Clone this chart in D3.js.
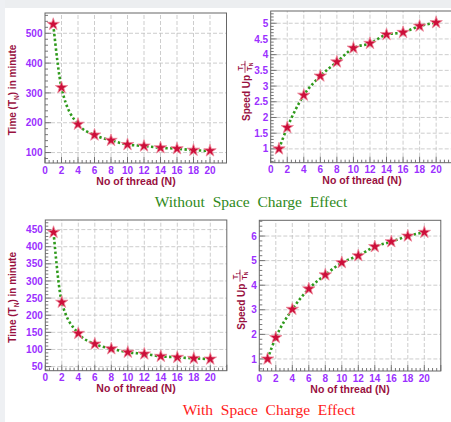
<!DOCTYPE html>
<html>
<head>
<meta charset="utf-8">
<script src="https://cdn.jsdelivr.net/npm/d3@7"></script>
<style>
  html, body { margin: 0; padding: 0; background: #ffffff; }
  svg { display: block; }
</style>
</head>
<body>
<svg id="chart" width="451" height="422"></svg>
<script>
// Run time and speed-up versus number of threads, with and without space charge
const threads = [1, 2, 4, 6, 8, 10, 12, 14, 16, 18, 20];
const timeNoSC = [530, 318, 195, 159, 141, 127, 122, 116, 113, 108, 106];
const speedupNoSC = [1, 1.68, 2.71, 3.32, 3.77, 4.21, 4.36, 4.64, 4.71, 4.91, 5.02];
const timeSC = [442, 238, 147, 116, 102, 92, 87, 80, 77, 74, 72];
const speedupSC = [1, 1.87, 3.02, 3.85, 4.42, 4.92, 5.20, 5.57, 5.77, 6.00, 6.15];

const xTicks = [0, 2, 4, 6, 8, 10, 12, 14, 16, 18, 20];
const yTicksTimeNoSC = [100, 200, 300, 400, 500];
const yTicksSpeedNoSC = [1, 1.5, 2, 2.5, 3, 3.5, 4, 4.5, 5];
const yTicksTimeSC = [50, 100, 150, 200, 250, 300, 350, 400, 450];
const yTicksSpeedSC = [1, 2, 3, 4, 5, 6];

const captions = ["Without  Space  Charge  Effect", "With  Space  Charge  Effect"];

const COL_TICK = "#9b30ff";
const COL_TITLE = "#99113f";
const COL_LINE = "#2f9a1c";
const COL_MARK = "#cc0f3a";
const COL_FRAME = "#666666";
const COL_GRID = "#c0c0c0";

const svg = d3.select("#chart");

// soft grey page edges
svg.append("rect").attr("width", 451).attr("height", 422).attr("fill", "#ffffff");
svg.append("rect").attr("width", 451).attr("height", 8).attr("fill", "#eceef0");
svg.append("rect").attr("width", 5).attr("height", 422).attr("fill", "#eef0f3");

const panels = [
  { x0: 45, x1: 226.5, y0: 163, y1: 13, dom: [65, 568], ticks: yTicksTimeNoSC, minor: 20,
    vals: timeNoSC, fmt: d3.format("d"), title: "time", tx: 16, xt: 136 },
  { x0: 270.7, x1: 452.7, y0: 162.7, y1: 11, dom: [0.56, 5.39], ticks: yTicksSpeedNoSC, minor: 0.1,
    vals: speedupNoSC, fmt: d => String(d), title: "speed", tx: 250, xt: 362 },
  { x0: 45.3, x1: 226.8, y0: 370.7, y1: 220, dom: [38, 478], ticks: yTicksTimeSC, minor: 10,
    vals: timeSC, fmt: d3.format("d"), title: "time", tx: 16, xt: 136 },
  { x0: 259.3, x1: 440.8, y0: 371, y1: 220.3, dom: [0.51, 6.64], ticks: yTicksSpeedSC, minor: 0.2,
    vals: speedupSC, fmt: d3.format("d"), title: "speed", tx: 245, xt: 350 }
];

function range(a, b, step) {
  const out = [];
  const n = Math.floor((b - a) / step + 1e-6);
  for (let i = 0; i <= n; i++) out.push(+(a + i * step).toFixed(6));
  return out;
}

panels.forEach(p => {
  const x = d3.scaleLinear().domain([0, 22]).range([p.x0, p.x1]);
  const y = d3.scaleLinear().domain(p.dom).range([p.y0, p.y1]);
  const g = svg.append("g");

  g.append("rect")
    .attr("x", p.x0).attr("y", p.y1)
    .attr("width", p.x1 - p.x0).attr("height", p.y0 - p.y1)
    .attr("fill", "#ffffff");

  // dashed grid on major ticks
  g.selectAll(".gx").data(xTicks.filter(t => t > 0)).enter().append("line")
    .attr("x1", d => x(d)).attr("x2", d => x(d))
    .attr("y1", p.y0).attr("y2", p.y1)
    .attr("stroke", COL_GRID).attr("stroke-width", 0.8).attr("stroke-dasharray", "4,2");
  g.selectAll(".gy").data(p.ticks).enter().append("line")
    .attr("x1", p.x0).attr("x2", p.x1)
    .attr("y1", d => y(d)).attr("y2", d => y(d))
    .attr("stroke", COL_GRID).attr("stroke-width", 0.8).attr("stroke-dasharray", "4,2");

  // minor and major ticks pointing inward
  const xMinor = range(0, 22, 0.5);
  g.selectAll(".mx").data(xMinor).enter().append("line")
    .attr("x1", d => x(d)).attr("x2", d => x(d))
    .attr("y1", p.y0).attr("y2", d => p.y0 - (d % 2 === 0 ? 6 : 3))
    .attr("stroke", "#555").attr("stroke-width", 0.8);
  const yMinor = range(Math.ceil(p.dom[0] / p.minor) * p.minor, p.dom[1], p.minor);
  const isMajor = d => p.ticks.some(t => Math.abs(t - d) < 1e-6);
  g.selectAll(".my").data(yMinor).enter().append("line")
    .attr("x1", p.x0).attr("x2", d => p.x0 + (isMajor(d) ? 6 : 3))
    .attr("y1", d => y(d)).attr("y2", d => y(d))
    .attr("stroke", "#555").attr("stroke-width", 0.8);

  g.append("rect")
    .attr("x", p.x0).attr("y", p.y1)
    .attr("width", p.x1 - p.x0).attr("height", p.y0 - p.y1)
    .attr("fill", "none").attr("stroke", COL_FRAME).attr("stroke-width", 1);

  // tick labels
  g.selectAll(".lx").data(xTicks).enter().append("text")
    .attr("x", d => x(d)).attr("y", p.y0 + 10.5)
    .attr("text-anchor", "middle")
    .attr("font-family", "Liberation Sans, Arial, sans-serif")
    .attr("font-weight", "bold").attr("font-size", 10)
    .attr("fill", COL_TICK).text(d => d);
  g.selectAll(".ly").data(p.ticks).enter().append("text")
    .attr("x", p.x0 - 2.5).attr("y", d => y(d) + 3.6)
    .attr("text-anchor", "end")
    .attr("font-family", "Liberation Sans, Arial, sans-serif")
    .attr("font-weight", "bold").attr("font-size", 10)
    .attr("fill", COL_TICK).text(d => p.fmt(d));

  // x axis title
  g.append("text")
    .attr("x", p.xt).attr("y", p.y0 + 21.5)
    .attr("text-anchor", "middle")
    .attr("font-family", "Liberation Sans, Arial, sans-serif")
    .attr("font-weight", "bold").attr("font-size", 10.5)
    .attr("fill", COL_TITLE).text("No of thread (N)");

  // y axis title
  const cy = (p.y0 + p.y1) / 2;
  if (p.title === "time") {
    const t = g.append("text")
      .attr("transform", `translate(${p.tx},${cy + 2}) rotate(-90)`)
      .attr("text-anchor", "middle")
      .attr("font-family", "Liberation Sans, Arial, sans-serif")
      .attr("font-weight", "bold").attr("font-size", 10)
      .attr("fill", COL_TITLE);
    t.append("tspan").text("Time (T");
    t.append("tspan").attr("dy", 2.5).attr("font-size", 6.5).text("N");
    t.append("tspan").attr("dy", -2.5).text(") in minute");
  } else {
    const lg = g.append("g")
      .attr("transform", `translate(${p.tx},${cy + 6}) rotate(-90)`)
      .attr("font-family", "Liberation Sans, Arial, sans-serif")
      .attr("font-weight", "bold").attr("fill", COL_TITLE);
    lg.append("text").attr("x", 18).attr("y", 0)
      .attr("text-anchor", "end").attr("font-size", 10).text("Speed Up");
    const num = lg.append("text").attr("x", 26).attr("y", -7)
      .attr("text-anchor", "middle").attr("font-size", 7.5);
    num.append("tspan").text("T");
    num.append("tspan").attr("dy", 1.5).attr("font-size", 5).text("1");
    lg.append("line").attr("x1", 20).attr("x2", 32).attr("y1", -5).attr("y2", -5)
      .attr("stroke", COL_TITLE).attr("stroke-width", 0.8);
    const den = lg.append("text").attr("x", 26).attr("y", 1.5)
      .attr("text-anchor", "middle").attr("font-size", 7.5);
    den.append("tspan").text("T");
    den.append("tspan").attr("dy", 1.5).attr("font-size", 5).text("N");
  }

  // smooth dotted curve through the points
  const pts = threads.map((t, i) => [t, p.vals[i]]);
  const line = d3.line().x(d => x(d[0])).y(d => y(d[1])).curve(d3.curveMonotoneX);
  g.append("path").datum(pts)
    .attr("d", line)
    .attr("fill", "none").attr("stroke", COL_LINE)
    .attr("stroke-width", 2.6).attr("stroke-dasharray", "2.4,2.4");

  // star markers
  const star = d3.symbol().type(d3.symbolStar).size(48);
  g.selectAll(".pt").data(pts).enter().append("path")
    .attr("d", star)
    .attr("transform", d => `translate(${x(d[0])},${y(d[1])})`)
    .attr("fill", COL_MARK).attr("stroke", "#ee8a9c").attr("stroke-width", 0.8);
});

// captions under each row
svg.append("text")
  .attr("x", 251).attr("y", 207)
  .attr("text-anchor", "middle")
  .attr("font-family", "Liberation Serif, Times New Roman, serif")
  .attr("font-size", 15.5).attr("fill", "#2f8a1a")
  .style("white-space", "pre")
  .text(captions[0]);
svg.append("text")
  .attr("x", 269).attr("y", 415)
  .attr("text-anchor", "middle")
  .attr("font-family", "Liberation Serif, Times New Roman, serif")
  .attr("font-size", 15.5).attr("fill", "#ff1a1a")
  .style("white-space", "pre")
  .text(captions[1]);
</script>
</body>
</html>
